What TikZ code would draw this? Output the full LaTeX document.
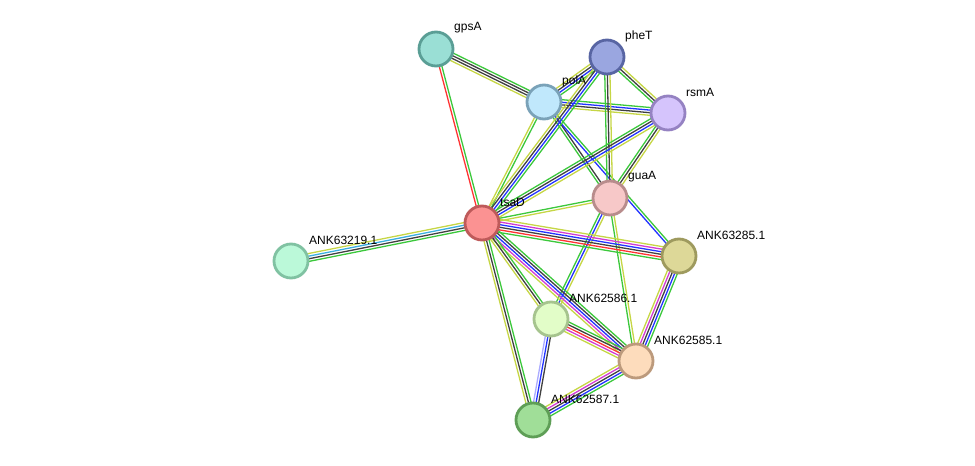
\documentclass[tikz,border=0pt]{standalone}
\usepackage{fontspec}
\setmainfont{Liberation Sans}
\usetikzlibrary{calc}
\usetikzlibrary{backgrounds}

\definecolor{cgreen}{HTML}{3CC83C}
\definecolor{cyell}{HTML}{C6D645}
\definecolor{cblack}{HTML}{404040}
\definecolor{cblue}{HTML}{2233FF}
\definecolor{cred}{HTML}{FF3333}
\definecolor{cmag}{HTML}{D23CD2}
\definecolor{ccyan}{HTML}{3AAEE0}
\definecolor{clav}{HTML}{AAAAFF}

% node fills and rims
\definecolor{gpsAf}{HTML}{9ADFD5}\definecolor{gpsAd}{HTML}{5A9E95}
\definecolor{pheTf}{HTML}{9AA6E0}\definecolor{pheTd}{HTML}{5865A3}
\definecolor{polAf}{HTML}{C0E8FC}\definecolor{polAd}{HTML}{7AA2B8}
\definecolor{rsmAf}{HTML}{D5C4FC}\definecolor{rsmAd}{HTML}{9582C2}
\definecolor{guaAf}{HTML}{F7C8C8}\definecolor{guaAd}{HTML}{B88C8C}
\definecolor{tsaDf}{HTML}{FB9292}\definecolor{tsaDd}{HTML}{BE5A5A}
\definecolor{a219f}{HTML}{BBF9D9}\definecolor{a219d}{HTML}{80C2A2}
\definecolor{a285f}{HTML}{DDD898}\definecolor{a285d}{HTML}{9E9A5E}
\definecolor{a586f}{HTML}{E2FDC8}\definecolor{a586d}{HTML}{A6C48E}
\definecolor{a585f}{HTML}{FDDCBC}\definecolor{a585d}{HTML}{BC9A7C}
\definecolor{a587f}{HTML}{A0DE98}\definecolor{a587d}{HTML}{5E9E56}

% parallel coloured strokes between two proteins
\newcommand{\edge}[3]{%
  \foreach \c [count=\i] in {#3} {\xdef\ncol{\i}}
  \foreach \c [count=\i] in {#3} {
    \pgfmathsetmacro\off{(\i-(\ncol+1)/2)*2.6}
    \draw[color=\c, line width=1.3pt] ($(#1.center)!\off pt!90:(#2.center)$) -- ($(#2.center)!\off pt!-90:(#1.center)$);
  }
}

\begin{document}
\begin{tikzpicture}[x=1pt, y=-1pt,
	prot/.style={circle, minimum size=34pt, inner sep=0pt, line width=2.8pt},
	lbl/.style={anchor=west, inner sep=0pt, font=\fontsize{12}{14}\selectfont}]
	\useasboundingbox (0,0) rectangle (975,466);

	\node[prot, fill=gpsAf, draw=gpsAd] (gpsA) at (436,49) {};
	\node[prot, fill=pheTf, draw=pheTd] (pheT) at (607,57) {};
	\node[prot, fill=polAf, draw=polAd] (polA) at (544,102) {};
	\node[prot, fill=rsmAf, draw=rsmAd] (rsmA) at (668,113) {};
	\node[prot, fill=guaAf, draw=guaAd] (guaA) at (610,198) {};
	\node[prot, fill=tsaDf, draw=tsaDd] (tsaD) at (482,223) {};
	\node[prot, fill=a219f, draw=a219d] (ANK63219) at (291,261) {};
	\node[prot, fill=a285f, draw=a285d] (ANK63285) at (679,256) {};
	\node[prot, fill=a586f, draw=a586d] (ANK62586) at (551,319) {};
	\node[prot, fill=a585f, draw=a585d] (ANK62585) at (636,361) {};
	\node[prot, fill=a587f, draw=a587d] (ANK62587) at (533,420) {};

	\node[lbl] (gpsA-l) at ([xshift=18pt, yshift=21pt]gpsA.center) {gpsA};
	\node[lbl] (pheT-l) at ([xshift=18pt, yshift=21pt]pheT.center) {pheT};
	\node[lbl] (polA-l) at ([xshift=18pt, yshift=21pt]polA.center) {polA};
	\node[lbl] (rsmA-l) at ([xshift=18pt, yshift=21pt]rsmA.center) {rsmA};
	\node[lbl] (guaA-l) at ([xshift=18pt, yshift=21pt]guaA.center) {guaA};
	\node[lbl] (tsaD-l) at ([xshift=18pt, yshift=21pt]tsaD.center) {tsaD};
	\node[lbl] (ANK63219-l) at ([xshift=18pt, yshift=21pt]ANK63219.center) {ANK63219.1};
	\node[lbl] (ANK63285-l) at ([xshift=18pt, yshift=21pt]ANK63285.center) {ANK63285.1};
	\node[lbl] (ANK62586-l) at ([xshift=18pt, yshift=21pt]ANK62586.center) {ANK62586.1};
	\node[lbl] (ANK62585-l) at ([xshift=18pt, yshift=21pt]ANK62585.center) {ANK62585.1};
	\node[lbl] (ANK62587-l) at ([xshift=18pt, yshift=21pt]ANK62587.center) {ANK62587.1};

	\begin{pgfonlayer}{background}
		\edge{gpsA}{polA}{cyell,cblack,cblack,cgreen}
		\edge{gpsA}{tsaD}{cred,cgreen}
		\edge{polA}{pheT}{cgreen,cblue,cblack,cyell}
		\edge{polA}{rsmA}{cyell,cblack,cblue,cgreen}
		\edge{polA}{guaA}{cgreen,cblack}
		\edge{polA}{ANK63285}{cblue,cgreen}
		\edge{polA}{tsaD}{cyell,cgreen}
		\edge{pheT}{rsmA}{cgreen,cblack,cyell}
		\edge{pheT}{guaA}{cgreen,cblack,cyell}
		\edge{pheT}{tsaD}{cyell,cblack,cblue,cgreen}
		\edge{rsmA}{guaA}{cgreen,cblack,cyell}
		\edge{rsmA}{tsaD}{cgreen,cblack,cblue,cyell}
		\edge{guaA}{tsaD}{cgreen,cyell}
		\edge{guaA}{ANK62586}{cgreen,cblue,cyell}
		\edge{guaA}{ANK62585}{cgreen,cyell}
		\edge{tsaD}{ANK63219}{cyell,ccyan,cblack,cgreen}
		\edge{tsaD}{ANK63285}{cgreen,cred,cblack,cblue,cmag,cyell}
		\edge{tsaD}{ANK62585}{cyell,cmag,cblue,cblack,cgreen}
		\edge{tsaD}{ANK62586}{cyell,cblack,cgreen}
		\edge{tsaD}{ANK62587}{cyell,cblack,cgreen}
		\edge{ANK63285}{ANK62585}{cyell,cmag,cblack,cblue,cgreen}
		\edge{ANK62586}{ANK62585}{cyell,cmag,cred,cblack,cgreen}
		\edge{ANK62586}{ANK62587}{clav,cblue,cblack}
		\edge{ANK62585}{ANK62587}{cyell,cmag,cblack,cblue,cgreen}
	\end{pgfonlayer}
\end{tikzpicture}
\end{document}
